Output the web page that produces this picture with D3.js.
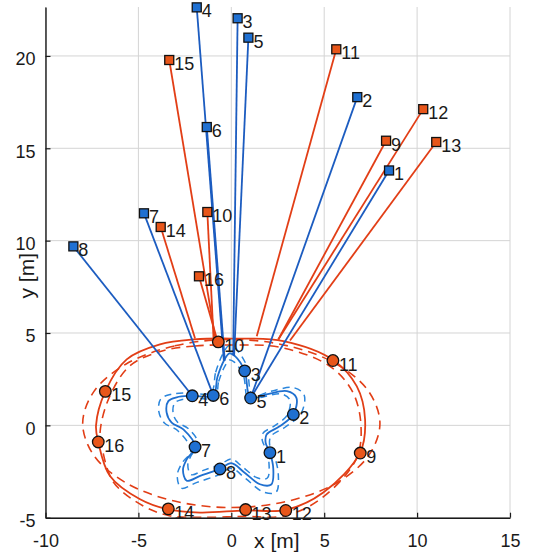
<!DOCTYPE html>
<html>
<head>
<meta charset="utf-8">
<script src="https://cdn.jsdelivr.net/npm/d3@7"></script>
<style>
  body { margin: 0; background: #fff; }
  text { font-family: "Liberation Sans", Arial, sans-serif; fill: #1a1a1a; }
</style>
</head>
<body>
<svg id="chart" width="533" height="557"></svg>
<script>
// axis ticks
const xTicks = [-10, -5, 0, 5, 10, 15];
const yTicks = [-5, 0, 5, 10, 15, 20];

// point labels 1..16 (1-8 blue, 9-16 red)
const pointLabels = ["1", "2", "3", "4", "5", "6", "7", "8",
  "9", "10", "11", "12", "13", "14", "15", "16"];

// square markers (far positions)
const squareX = [8.49, 6.78, 0.34, -1.86, 0.92, -1.32, -4.70, -8.50,
  8.33, -1.29, 5.65, 10.33, 11.03, -3.80, -3.34, -1.74];
const squareY = [13.80, 17.77, 22.04, 22.63, 20.99, 16.15, 11.48, 9.69,
  15.41, 11.55, 20.36, 17.12, 15.34, 10.74, 19.78, 8.07];

// circle markers (near positions)
const circleX = [2.08, 3.34, 0.72, -2.10, 1.04, -0.97, -1.95, -0.61,
  6.94, -0.70, 5.47, 2.93, 0.77, -3.39, -6.78, -7.16];
const circleY = [-1.48, 0.59, 2.95, 1.60, 1.48, 1.62, -1.17, -2.36,
  -1.50, 4.52, 3.51, -4.61, -4.56, -4.52, 1.84, -0.90];

// where the line from each square ends
const rayEndX = [1.04, 1.04, 0.10, -0.40, 0.15, -0.35, -0.97, -2.10,
  2.53, -0.95, 1.37, 2.53, 3.16, -1.95, -0.85, -0.75];
const rayEndY = [1.48, 1.48, 3.80, 3.50, 3.75, 3.50, 1.62, 1.60,
  4.65, 4.60, 4.83, 4.65, 4.59, 4.70, 4.65, 4.60];

// blue star-shaped curve and its dashed bounds
const starSolid = [[-0.97, 1.62], [-0.75, 2.6], [-0.4, 3.5], [-0.1, 3.9], [0.2, 3.75], [0.72, 2.95],
  [1.04, 1.48], [1.9, 1.68], [3.0, 1.85], [3.5, 1.5], [3.34, 0.59], [2.6, -0.05], [1.9, -0.5],
  [1.85, -0.95], [2.08, -1.48], [2.26, -2.35], [2.15, -3.2], [1.54, -3.19], [0.7, -2.55],
  [0.0, -2.05], [-0.61, -2.36], [-1.68, -2.74], [-2.4, -3.0], [-2.6, -2.4], [-2.4, -1.84],
  [-1.95, -1.17], [-2.58, -0.22], [-3.21, 0.15], [-3.48, 0.69], [-3.39, 1.31], [-2.94, 1.52],
  [-2.10, 1.60]];
const starOuter = [[-1.09, 1.78], [-0.84, 2.88], [-0.45, 3.88], [-0.11, 4.33], [0.22, 4.16], [0.81, 3.27],
  [1.16, 1.62], [2.13, 1.85], [3.36, 2.04], [3.92, 1.64], [3.74, 0.62], [2.91, -0.09], [2.13, -0.6],
  [2.07, -1.10], [2.33, -1.69], [2.53, -2.67], [2.41, -3.62], [1.72, -3.61], [0.78, -2.89],
  [0.0, -2.33], [-0.68, -2.68], [-1.88, -3.10], [-2.69, -3.40], [-2.91, -2.72], [-2.69, -2.10],
  [-2.18, -1.35], [-2.89, -0.28], [-3.60, 0.13], [-3.90, 0.74], [-3.80, 1.43], [-3.29, 1.67],
  [-2.35, 1.76]];
const starInner = [[-0.87, 1.49], [-0.68, 2.37], [-0.36, 3.18], [-0.09, 3.54], [0.18, 3.41], [0.65, 2.69],
  [0.94, 1.36], [1.71, 1.54], [2.7, 1.70], [3.15, 1.38], [3.01, 0.56], [2.34, -0.02], [1.71, -0.42],
  [1.67, -0.83], [1.87, -1.30], [2.03, -2.09], [1.94, -2.85], [1.39, -2.84], [0.63, -2.27],
  [0.0, -1.82], [-0.55, -2.09], [-1.51, -2.44], [-2.16, -2.67], [-2.34, -2.13], [-2.16, -1.63],
  [-1.76, -1.02], [-2.32, -0.17], [-2.89, 0.17], [-3.13, 0.65], [-3.05, 1.21], [-2.65, 1.40],
  [-1.89, 1.47]];

// red oval and its dashed bounds
const ovalSolid = [[0, 4.7], [-2.0, 4.65], [-3.84, 4.38], [-5.63, 3.57], [-6.78, 1.84], [-7.28, 0.0],
  [-7.16, -0.9], [-6.53, -2.74], [-4.91, -4.0], [-3.44, -4.54], [-1.68, -4.72], [0.74, -4.6],
  [2.94, -4.58], [4.95, -3.64], [6.93, -1.48], [7.2, 0.32], [6.75, 2.12], [5.49, 3.53], [2.8, 4.56]];
const ovalInner = [[0, 4.35], [-1.94, 4.3], [-3.72, 4.03], [-5.46, 3.22], [-6.58, 1.49], [-7.06, -0.35],
  [-6.95, -1.25], [-6.33, -3.09], [-4.76, -4.35], [-3.34, -4.89], [-1.63, -4.98], [0.72, -4.93],
  [2.85, -4.9], [4.8, -3.99], [6.72, -1.83], [6.98, -0.03], [6.55, 1.77], [5.33, 3.18], [2.72, 4.21]];
const ovalOuter = [[0, 4.65], [-3.06, 4.30], [-5.66, 3.32], [-7.39, 1.84], [-8.0, 0.1], [-7.39, -1.64],
  [-5.66, -3.12], [-3.06, -4.10], [0, -4.45], [3.06, -4.10], [5.66, -3.12], [7.39, -1.64],
  [8.0, 0.1], [7.39, 1.84], [5.66, 3.32], [3.06, 4.30]];

const blue = "#1c5cc0", blueStar = "#1f6fcf", blueLight = "#2b86dc", red = "#e23e16";
const blueFill = "#1f70d2", redFill = "#e8561a";

const svg = d3.select("#chart");
const plotLeft = 45.5, plotRight = 510, plotTop = 7, plotBottom = 517.7;

const x = d3.scaleLinear().domain([-10, 15]).range([plotLeft, plotRight]);
const y = d3.scaleLinear().domain([-5, 22.65]).range([plotBottom, plotTop]);

svg.append("defs").append("clipPath").attr("id", "plotClip")
  .append("rect")
  .attr("x", plotLeft).attr("y", plotTop)
  .attr("width", plotRight - plotLeft).attr("height", plotBottom - plotTop);

// grid
const grid = svg.append("g");
grid.selectAll(".gx").data(xTicks).enter().append("line")
  .attr("x1", d => x(d)).attr("x2", d => x(d))
  .attr("y1", plotBottom).attr("y2", plotTop)
  .attr("stroke", "#d4d4d4").attr("stroke-width", 1);
grid.selectAll(".gy").data(yTicks).enter().append("line")
  .attr("x1", plotLeft).attr("x2", plotRight)
  .attr("y1", d => y(d)).attr("y2", d => y(d))
  .attr("stroke", "#d4d4d4").attr("stroke-width", 1);

const plot = svg.append("g").attr("clip-path", "url(#plotClip)");

const closedLine = d3.line()
  .x(d => x(d[0]))
  .y(d => y(d[1]))
  .curve(d3.curveCatmullRomClosed.alpha(0.5));

// red oval
plot.append("path").attr("d", closedLine(ovalOuter))
  .attr("fill", "none").attr("stroke", red).attr("stroke-width", 1.6)
  .attr("stroke-dasharray", "9,6");
plot.append("path").attr("d", closedLine(ovalInner))
  .attr("fill", "none").attr("stroke", red).attr("stroke-width", 1.6)
  .attr("stroke-dasharray", "9,6");
plot.append("path").attr("d", closedLine(ovalSolid))
  .attr("fill", "none").attr("stroke", red).attr("stroke-width", 1.8);

// blue star
plot.append("path").attr("d", closedLine(starOuter))
  .attr("fill", "none").attr("stroke", blueLight).attr("stroke-width", 1.5)
  .attr("stroke-dasharray", "7,5");
plot.append("path").attr("d", closedLine(starInner))
  .attr("fill", "none").attr("stroke", blueLight).attr("stroke-width", 1.5)
  .attr("stroke-dasharray", "7,5");
plot.append("path").attr("d", closedLine(starSolid))
  .attr("fill", "none").attr("stroke", blueStar).attr("stroke-width", 1.8);

// lines from the squares
const idx = d3.range(pointLabels.length);
const redIdx = idx.filter(i => i >= 8);
const blueIdx = idx.filter(i => i < 8);

plot.selectAll(".redRay").data(redIdx).enter().append("line")
  .attr("x1", i => x(squareX[i])).attr("y1", i => y(squareY[i]))
  .attr("x2", i => x(rayEndX[i])).attr("y2", i => y(rayEndY[i]))
  .attr("stroke", red).attr("stroke-width", 1.8);
plot.selectAll(".blueRay").data(blueIdx).enter().append("line")
  .attr("x1", i => x(squareX[i])).attr("y1", i => y(squareY[i]))
  .attr("x2", i => x(rayEndX[i])).attr("y2", i => y(rayEndY[i]))
  .attr("stroke", blue).attr("stroke-width", 1.8);

// axes (ticks point inward, no box)
const yAxis = svg.append("g")
  .attr("transform", "translate(" + plotLeft + ",0)")
  .call(d3.axisLeft(y).tickValues(yTicks).tickSizeInner(-5).tickSizeOuter(0).tickPadding(10));
const xAxis = svg.append("g")
  .attr("transform", "translate(0," + plotBottom + ")")
  .call(d3.axisBottom(x).tickValues(xTicks).tickSizeInner(-5).tickSizeOuter(0).tickPadding(17));
[xAxis, yAxis].forEach(function(a) {
  a.select(".domain").attr("stroke", "#1a1a1a").attr("stroke-width", 1.4);
  a.selectAll(".tick line").attr("stroke", "#1a1a1a").attr("stroke-width", 1.2);
  a.selectAll(".tick text")
    .style("font-family", "'Liberation Sans', Arial, sans-serif")
    .style("font-size", "18px").attr("fill", "#1a1a1a");
});
yAxis.selectAll(".tick text").attr("dy", "0.5em");
xAxis.selectAll(".tick text").text(d => d < 0 ? "-" + Math.abs(d) : d);
yAxis.selectAll(".tick text").text(d => d < 0 ? "-" + Math.abs(d) : d);

svg.append("text")
  .attr("x", x(2.45)).attr("y", 547.5)
  .attr("text-anchor", "middle")
  .style("font-size", "21px")
  .text("x [m]");
svg.append("text")
  .attr("transform", "translate(26," + y(8.1) + ") rotate(-90)")
  .attr("text-anchor", "middle")
  .attr("dominant-baseline", "central")
  .style("font-size", "21px")
  .text("y [m]");

// labels (drawn under the markers)
const labels = svg.append("g").style("font-size", "18px");
labels.selectAll(".sqLabel").data(idx).enter().append("text")
  .attr("x", i => x(squareX[i]) + 5)
  .attr("y", i => y(squareY[i]) + 4)
  .attr("dominant-baseline", "central")
  .text(i => pointLabels[i]);
labels.selectAll(".ciLabel").data(idx).enter().append("text")
  .attr("x", i => x(circleX[i]) + 6)
  .attr("y", i => y(circleY[i]) + 4)
  .attr("dominant-baseline", "central")
  .text(i => pointLabels[i]);

// markers
svg.selectAll(".sq").data(idx).enter().append("rect")
  .attr("x", i => x(squareX[i]) - 4.5)
  .attr("y", i => y(squareY[i]) - 4.5)
  .attr("width", 9).attr("height", 9)
  .attr("fill", i => i < 8 ? blueFill : redFill)
  .attr("stroke", "#111").attr("stroke-width", 1.3);
svg.selectAll(".ci").data(idx).enter().append("circle")
  .attr("cx", i => x(circleX[i]))
  .attr("cy", i => y(circleY[i]))
  .attr("r", 5.8)
  .attr("fill", i => i < 8 ? blueFill : redFill)
  .attr("stroke", "#111").attr("stroke-width", 1.3);
</script>
</body>
</html>
